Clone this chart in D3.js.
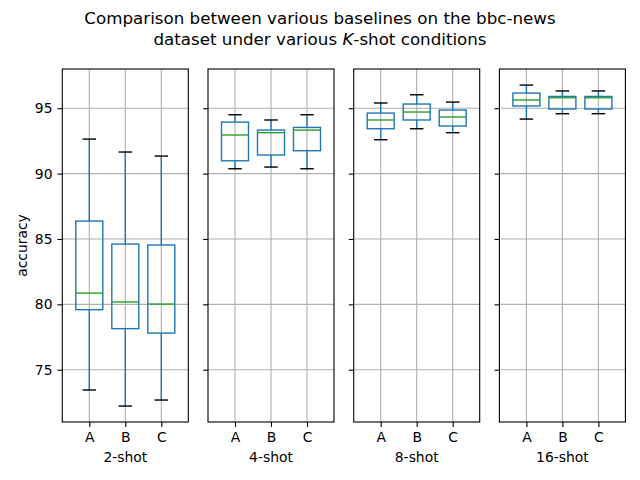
<!DOCTYPE html>
<html>
<head>
<meta charset="utf-8">
<script src="https://cdn.jsdelivr.net/npm/d3@7"></script>
<style>
  body { margin: 0; background: #fff; }
  text { font-family: "DejaVu Sans", sans-serif; }
</style>
</head>
<body>
<div id="chart"></div>
<script>
var w = 640;
var h = 480;

// data
var shots = ["2-shot", "4-shot", "8-shot", "16-shot"];
var methods = ["A", "B", "C"];
var yTicks = [75, 80, 85, 90, 95];

// one row per shot group, one value per method
var whiskerLow  = [[73.45, 72.22, 72.68], [90.37, 90.50, 90.37], [92.59, 93.43, 93.13], [94.17, 94.58, 94.58]];
var boxLow      = [[79.59, 78.14, 77.80], [90.98, 91.42, 91.75], [93.43, 94.10, 93.64], [95.17, 94.94, 94.94]];
var medians     = [[80.86, 80.18, 80.02], [92.95, 93.13, 93.33], [94.10, 94.71, 94.33], [95.63, 95.80, 95.80]];
var boxHigh     = [[86.37, 84.61, 84.54], [93.94, 93.33, 93.53], [94.63, 95.32, 94.86], [96.16, 95.90, 95.90]];
var whiskerHigh = [[92.64, 91.65, 91.34], [94.50, 94.10, 94.50], [95.40, 96.03, 95.47], [96.77, 96.32, 96.32]];

var svg = d3.select("#chart")
  .append("svg")
  .attr("width", w)
  .attr("height", h);

var plotTop = 69, plotBottom = 422;
var panelLeft = 62.3, panelW = 126, gap = 19.7;

var yScale = d3.scaleLinear().domain([71, 98]).range([plotBottom, plotTop]);
// positions 1..3 with xlim 0.25..3.75
var xScale = d3.scaleLinear().domain([0.25, 3.75]).range([0, panelW]);
var unit = xScale(1) - xScale(0);
var boxW = 0.75 * unit;
var capW = 0.375 * unit;

var blue = "#1f77b4", green = "#2ca02c", grid = "#b0b0b0";

// title
svg.append("text").attr("x", 320).attr("y", 24).attr("text-anchor", "middle")
  .style("font-size", "16.7px").text("Comparison between various baselines on the bbc-news");
var t2 = svg.append("text").attr("x", 320).attr("y", 44.5).attr("text-anchor", "middle")
  .style("font-size", "16.7px");
t2.append("tspan").text("dataset under various ");
t2.append("tspan").style("font-style", "italic").text("K");
t2.append("tspan").text("-shot conditions");

// y label
svg.append("text")
  .attr("transform", "translate(27," + ((plotTop + plotBottom) / 2) + ") rotate(-90)")
  .attr("text-anchor", "middle")
  .style("font-size", "13.9px")
  .text("accuracy");

shots.forEach(function(shot, gi) {
  var g = svg.append("g")
    .attr("transform", "translate(" + (panelLeft + gi * (panelW + gap)) + ",0)");

  // grid lines
  g.selectAll(".hgrid").data(yTicks).enter().append("line")
    .attr("x1", 0).attr("x2", panelW)
    .attr("y1", function(d) { return yScale(d); })
    .attr("y2", function(d) { return yScale(d); })
    .attr("stroke", grid).attr("stroke-width", 1.1);
  g.selectAll(".vgrid").data(methods).enter().append("line")
    .attr("x1", function(d, i) { return xScale(i + 1); })
    .attr("x2", function(d, i) { return xScale(i + 1); })
    .attr("y1", plotTop).attr("y2", plotBottom)
    .attr("stroke", grid).attr("stroke-width", 1.1);

  // axes
  var yAxis = d3.axisLeft(yScale).tickValues(yTicks).tickSize(4.9).tickPadding(4.9)
    .tickFormat(gi === 0 ? d3.format("d") : function() { return ""; });
  var ya = g.append("g").call(yAxis);
  ya.select(".domain").remove();
  ya.selectAll("line").attr("stroke", "#000").attr("stroke-width", 1.1);
  ya.selectAll("text").style("font-size", "13.9px").style("font-family", "DejaVu Sans");

  var xAxis = d3.axisBottom(xScale).tickValues([1, 2, 3]).tickSize(4.9).tickPadding(4.9)
    .tickFormat(function(d) { return methods[d - 1]; });
  var xa = g.append("g").attr("transform", "translate(0," + plotBottom + ")").call(xAxis);
  xa.select(".domain").remove();
  xa.selectAll("line").attr("stroke", "#000").attr("stroke-width", 1.1);
  xa.selectAll("text").style("font-size", "13.9px").style("font-family", "DejaVu Sans");

  g.append("text").attr("x", panelW / 2).attr("y", 462).attr("text-anchor", "middle")
    .style("font-size", "13.9px").text(shot);

  // boxes
  methods.forEach(function(m, i) {
    var cx = xScale(i + 1);
    var b = g.append("g");
    b.append("line").attr("x1", cx).attr("x2", cx)
      .attr("y1", yScale(whiskerLow[gi][i])).attr("y2", yScale(boxLow[gi][i]))
      .attr("stroke", blue).attr("stroke-width", 1.4);
    b.append("line").attr("x1", cx).attr("x2", cx)
      .attr("y1", yScale(boxHigh[gi][i])).attr("y2", yScale(whiskerHigh[gi][i]))
      .attr("stroke", blue).attr("stroke-width", 1.4);
    b.append("rect")
      .attr("x", cx - boxW / 2).attr("width", boxW)
      .attr("y", yScale(boxHigh[gi][i]))
      .attr("height", yScale(boxLow[gi][i]) - yScale(boxHigh[gi][i]))
      .attr("fill", "none").attr("stroke", blue).attr("stroke-width", 1.4);
    b.append("line").attr("x1", cx - boxW / 2).attr("x2", cx + boxW / 2)
      .attr("y1", yScale(medians[gi][i])).attr("y2", yScale(medians[gi][i]))
      .attr("stroke", green).attr("stroke-width", 1.4);
    [whiskerLow[gi][i], whiskerHigh[gi][i]].forEach(function(v) {
      b.append("line").attr("x1", cx - capW / 2).attr("x2", cx + capW / 2)
        .attr("y1", yScale(v)).attr("y2", yScale(v))
        .attr("stroke", "#000").attr("stroke-width", 1.4);
    });
  });

  // frame
  g.append("rect").attr("x", 0).attr("y", plotTop).attr("width", panelW).attr("height", plotBottom - plotTop)
    .attr("fill", "none").attr("stroke", "#000").attr("stroke-width", 1.1);
});
</script>
</body>
</html>
